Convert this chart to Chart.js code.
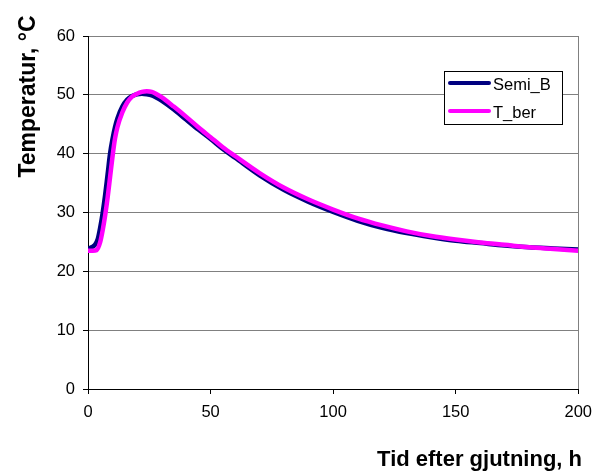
<!DOCTYPE html>
<html><head><meta charset="utf-8">
<script src="https://cdn.jsdelivr.net/npm/chart.js@4"></script>
<style>html,body{margin:0;padding:0;background:#fff}#wrap{width:601px;height:471px;position:relative}</style>
</head><body><div id="wrap"><canvas id="c" width="601" height="471"></canvas></div>
<script>
const semiHours = [0,1,2,3,4,5,6,7,8,9,10,11,12,14,16,18,20,22,24,26,28,30,35,40,45,50,55,60,70,80,90,100,110,120,130,140,150,160,170,180,190,200];
const semiB = [23.8,24.0,24.2,24.6,25.5,27.5,30,33,36.5,40,42.5,44.5,46,48,49.2,49.8,50.1,50.2,50.1,49.9,49.5,49.0,47.5,45.8,44.1,42.5,40.8,39.3,36.3,33.8,31.8,30.1,28.6,27.4,26.5,25.8,25.2,24.8,24.4,24.1,23.9,23.7];
const berHours = [0,2,3.5,5,6,7,8,9,10,11,12,14,16,18,20,22,24,26,28,30,35,40,45,50,55,60,70,80,90,100,110,120,130,140,150,160,170,180,190,200];
const tBer = [23.5,23.5,23.6,25,27,29.5,32.5,36,39.5,42.5,44.5,47,48.7,49.7,50.2,50.5,50.6,50.5,50.1,49.6,48,46.3,44.5,42.8,41.1,39.6,36.7,34.2,32.2,30.5,29.0,27.8,26.8,26.0,25.4,24.9,24.5,24.1,23.8,23.5];
const seriesNames = ["Semi_B","T_ber"];
const xTitle = "Tid efter gjutning, h";
const yTitle = "Temperatur, \u00B0C";

const FONT = "'Liberation Sans', Arial, sans-serif";
const pts = (xs, ys) => xs.map((x,i)=>({x:x,y:ys[i]}));

const extras = {
  id:'extras',
  afterDraw(chart){
    const ctx = chart.ctx, a = chart.chartArea;
    ctx.save();
    // right border
    ctx.strokeStyle = '#808080'; ctx.lineWidth = 1;
    ctx.beginPath(); ctx.moveTo(Math.round(a.right)+0.5, a.top); ctx.lineTo(Math.round(a.right)+0.5, a.bottom); ctx.stroke();
    // axis titles
    ctx.fillStyle = '#000';
    ctx.font = 'bold 22px ' + FONT;
    ctx.textAlign = 'right'; ctx.textBaseline = 'alphabetic';
    ctx.fillText(xTitle, 582, 466);
    ctx.save();
    ctx.font = 'bold 23px ' + FONT;
    ctx.translate(35, 96.5); ctx.rotate(-Math.PI/2);
    ctx.textAlign = 'center';
    ctx.fillText(yTitle, 0, 0);
    ctx.restore();
    // legend
    const lx = 444, ly = 71, lw = 118, lh = 53;
    ctx.fillStyle = '#fff'; ctx.fillRect(lx, ly, lw, lh);
    ctx.strokeStyle = '#000'; ctx.lineWidth = 1;
    ctx.strokeRect(lx+0.5, ly+0.5, lw, lh);
    chart.data.datasets.forEach((ds, i) => {
      const y = ly + 12 + i*28;
      ctx.strokeStyle = ds.borderColor; ctx.lineWidth = 4; ctx.lineCap = 'round';
      ctx.beginPath(); ctx.moveTo(450, y); ctx.lineTo(489, y); ctx.stroke();
      ctx.fillStyle = '#000'; ctx.font = '16.5px ' + FONT;
      ctx.textAlign = 'left'; ctx.textBaseline = 'alphabetic';
      ctx.fillText(ds.label, 493, y + 7);
    });
    ctx.restore();
  }
};

new Chart(document.getElementById('c'), {
  type: 'line',
  data: { datasets: [
    { label: seriesNames[0], data: pts(semiHours, semiB), borderColor: '#000080', borderWidth: 4.5, pointRadius: 0, cubicInterpolationMode: 'monotone', fill: false, order: 2 },
    { label: seriesNames[1], data: pts(berHours, tBer), borderColor: '#FF00FF', borderWidth: 4.5, pointRadius: 0, cubicInterpolationMode: 'monotone', fill: false, order: 1 }
  ]},
  options: {
    responsive: false, animation: false, devicePixelRatio: 1,
    layout: { padding: { top: 36, right: 21, left: 0, bottom: 0 } },
    plugins: { legend: { display: false }, tooltip: { enabled: false } },
    scales: {
      x: { type: 'linear', min: 0, max: 200,
        ticks: { stepSize: 50, color: '#000', font: { family: FONT, size: 16.5 }, padding: 9, maxRotation: 0 },
        grid: { drawOnChartArea: false, drawTicks: true, tickLength: 5, tickColor: '#000' },
        border: { color: '#000', width: 1 },
        afterFit(s){ s.height = 82; }
      },
      y: { min: 0, max: 60,
        ticks: { stepSize: 10, color: '#000', font: { family: FONT, size: 16.5 }, padding: 8 },
        grid: { color: '#808080', tickColor: '#000', tickLength: 5 },
        border: { color: '#000', width: 1 },
        afterFit(s){ s.width = 88; }
      }
    }
  },
  plugins: [extras]
});
</script></body></html>
